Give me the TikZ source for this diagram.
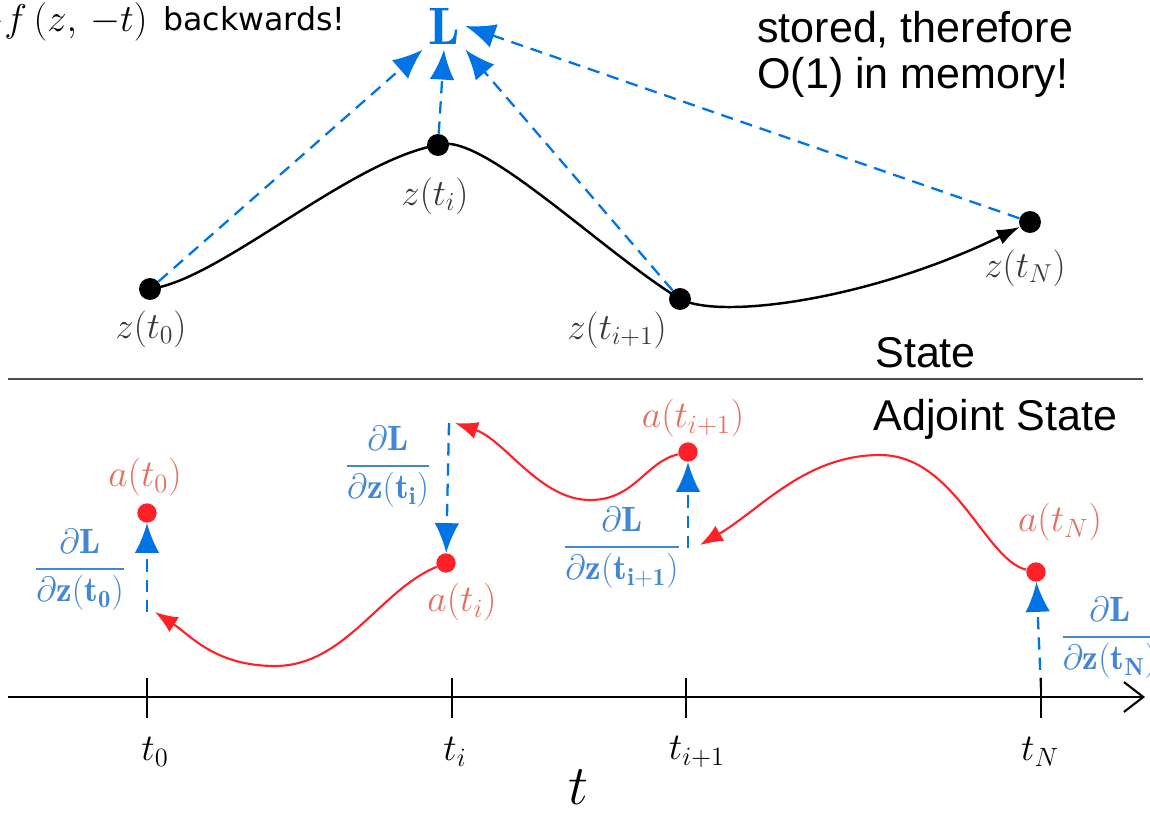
\RequirePackage{fix-cm}
\documentclass[tikz,border=0pt]{standalone}
\usepackage{amsmath}
\usepackage{fontspec}
\newfontfamily\helv{Liberation Sans}
\newfontfamily\dejavu{DejaVu Sans}
\usetikzlibrary{arrows.meta}
\definecolor{ablue}{RGB}{0,116,228}
\definecolor{fblue}{RGB}{66,135,214}
\definecolor{ared}{RGB}{255,32,40}
\definecolor{asalmon}{RGB}{228,112,95}
\definecolor{zgray}{RGB}{55,55,55}
\begin{document}
\begin{tikzpicture}[x=0.02cm,y=-0.02cm,
 bdot/.style={circle,fill=black,inner sep=0pt,minimum size=12.5pt},
 rdot/.style={circle,fill=ared,inner sep=0pt,minimum size=11pt},
 zlab/.style={text=zgray,font=\fontsize{21}{25}\selectfont,inner sep=0pt},
 alab/.style={text=asalmon,font=\fontsize{21.5}{25}\selectfont,inner sep=0pt},
 flab/.style={text=fblue,font=\fontsize{20}{24}\selectfont,inner sep=0pt},
 tlab/.style={font=\fontsize{21.5}{25}\selectfont,inner sep=0pt},
 helvtext/.style={font=\helv\fontsize{24.5}{28}\selectfont,inner sep=0pt},
 bdash/.style={ablue,line width=1.3pt,dash pattern=on 7pt off 4.5pt,-{Latex[length=17pt,width=14pt]}},
 rcurve/.style={ared,line width=1.2pt,-{Latex[length=13pt,width=10pt]}},
 tick/.style={line width=1.1pt}
]
\useasboundingbox (0,0) rectangle (1150,815);
\clip (0,0) rectangle (1150,815);

% top-left text
\node[anchor=base west,font=\fontsize{22}{26}\selectfont,inner sep=0pt] (fz) at (-26,31) {$-f\,(z,\,{-t})$};
\node[anchor=base west,font=\dejavu\fontsize{18}{22}\selectfont,inner sep=0pt] (bw) at (163,30) {backwards!};

% top-right text
\node[helvtext,anchor=base west] (mem1) at (757,42) {stored, therefore};
\node[helvtext,anchor=base west] (mem2) at (757,88) {O(1) in memory!};

% loss
\node[font=\fontsize{30}{34}\selectfont,text=ablue,inner sep=3pt] (L) at (444,26) {$\mathbf{L}$};

% state dots
\node[bdot] (z0) at (150,289) {};
\node[bdot] (zi) at (438,145) {};
\node[bdot] (zip) at (680,299) {};
\node[bdot] (zN) at (1030,222) {};

\draw[line width=1.4pt,-{Latex[length=13pt,width=9pt]}]
  (z0.center) .. controls (220,280) and (350,160) .. (zi.center)
  .. controls (480,130) and (600,250) .. (zip.center)
  .. controls (720,320) and (870,300) .. (zN);

\draw[bdash] (z0) -- (L.south west);
\draw[bdash] (zi) -- (L.south);
\draw[bdash] (zip) -- (L.south east);
\draw[bdash] (zN) -- (L.east);

\node[zlab] (lz0) at (151,329) {$z(t_0)$};
\node[zlab] (lzi) at (435,196) {$z(t_i)$};
\node[zlab] (lzip) at (617,330) {$z(t_{i+1})$};
\node[zlab] (lzN) at (1025,268) {$z(t_N)$};

% separator
\coordinate (sepL) at (8,379);
\coordinate (sepR) at (1143,379);
\draw[line width=0.6pt,black!70] (sepL) -- (sepR);
\node[helvtext,anchor=base west] (st) at (875,367) {State};
\node[helvtext,anchor=base west] (ast) at (873,430) {Adjoint State};

% adjoint dots
\node[rdot] (a0) at (147,513) {};
\node[rdot] (ai) at (446,563) {};
\node[rdot] (aip) at (688,452) {};
\node[rdot] (aN) at (1036,572) {};

\node[alab] (la0) at (145,477) {$a(t_0)$};
\node[alab] (lai) at (462,602) {$a(t_i)$};
\node[alab] (laip) at (693,418) {$a(t_{i+1})$};
\node[alab] (laN) at (1060,522) {$a(t_N)$};

% gradient arrows
\coordinate (g0) at (147,612);
\coordinate (gi) at (449,423);
\coordinate (gip) at (688,548);
\coordinate (gN) at (1041,690);
\draw[bdash] (g0) -- (a0);
\draw[bdash] (gi) -- (ai);
\draw[bdash] (gip) -- (aip);
\draw[bdash] (gN) -- (aN);

\node[flab] (f0) at (80,570) {$\dfrac{\partial\mathbf{L}}{\partial\mathbf{z}(\mathbf{t_0})}$};
\node[flab] (fi) at (388,467) {$\dfrac{\partial\mathbf{L}}{\partial\mathbf{z}(\mathbf{t_i})}$};
\node[flab] (fip) at (622,548) {$\dfrac{\partial\mathbf{L}}{\partial\mathbf{z}(\mathbf{t_{i+1}})}$};
\node[flab] (fN) at (1110,638) {$\dfrac{\partial\mathbf{L}}{\partial\mathbf{z}(\mathbf{t_N})}$};

% red adjoint curves
\coordinate (r0) at (155,612);
\coordinate (ri) at (455,423);
\coordinate (rip) at (700,545);
\draw[rcurve] (ai) .. controls (380,590) and (345,666) .. (275,666)
  .. controls (215,666) and (190,635) .. (r0);
\draw[rcurve] (aip) .. controls (645,462) and (635,500) .. (590,500)
  .. controls (540,500) and (505,440) .. (ri);
\draw[rcurve] (aN) .. controls (985,560) and (955,455) .. (880,455)
  .. controls (805,455) and (760,510) .. (rip);

% time axis
\coordinate (ax0) at (8,697);
\coordinate (ax1) at (1145,697);
\draw[line width=1.2pt,-{Straight Barb[length=11pt,width=17pt]}] (ax0) -- (ax1);
\foreach \x in {147,452,686,1041}{
  \draw[tick] (\x,678) -- (\x,718);
}
\node[tlab] (lt0) at (155,752) {$t_0$};
\node[tlab] (lti) at (455,752) {$t_i$};
\node[tlab] (ltip) at (697,752) {$t_{i+1}$};
\node[tlab] (ltN) at (1040,752) {$t_N$};
\node[font=\fontsize{32}{36}\selectfont,inner sep=0pt] (tt) at (578,787) {$t$};
\end{tikzpicture}
\end{document}
